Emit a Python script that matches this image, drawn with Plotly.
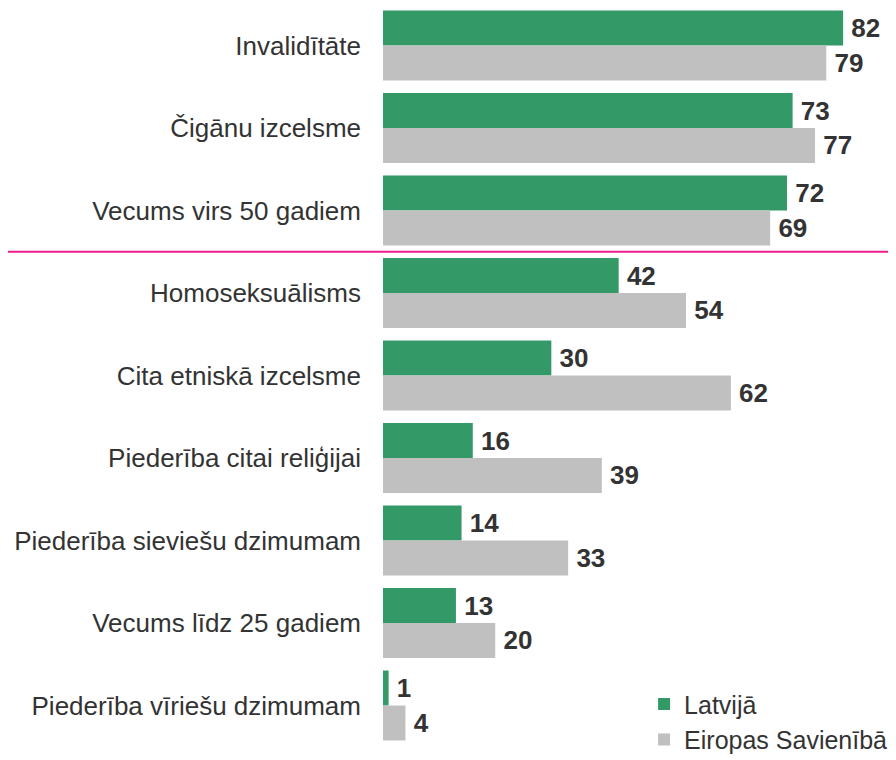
import plotly.graph_objects as go

categories = ["Invalidītāte", "Čigānu izcelsme", "Vecums virs 50 gadiem", "Homoseksuālisms",
              "Cita etniskā izcelsme", "Piederība citai reliģijai", "Piederība sieviešu dzimumam",
              "Vecums līdz 25 gadiem", "Piederība vīriešu dzimumam"]
latvia = [82, 73, 72, 42, 30, 16, 14, 13, 1]
eu = [79, 77, 69, 54, 62, 39, 33, 20, 4]
series_names = ["Latvijā", "Eiropas Savienībā"]

FONT = "Liberation Sans, Arial, sans-serif"
L, R, T, B = 375, 16, 0, 21
PW = 896 - L - R

def labels(vals):
    return [f"\u2009<b>{v}</b>" for v in vals]

fig = go.Figure()
fig.add_trace(go.Bar(y=categories, x=latvia, orientation="h", name=series_names[0],
                     marker=dict(color="#339966", line=dict(width=0)),
                     text=labels(latvia), textposition="outside",
                     textfont=dict(size=26, color="#333333", family=FONT), cliponaxis=False))
fig.add_trace(go.Bar(y=categories, x=eu, orientation="h", name=series_names[1],
                     marker=dict(color="#C0C0C0", line=dict(width=0)),
                     text=labels(eu), textposition="outside",
                     textfont=dict(size=26, color="#333333", family=FONT), cliponaxis=False))

fig.update_layout(
    width=896, height=760, barmode="group", bargap=0.152, bargroupgap=0,
    plot_bgcolor="white", paper_bgcolor="white",
    margin=dict(l=L, r=R, t=T, b=B, autoexpand=False),
    font=dict(family=FONT, size=26, color="#333333"),
    xaxis=dict(range=[0, 90], visible=False, showgrid=False, zeroline=False),
    yaxis=dict(range=[8.503, -0.4545], categoryorder="array", categoryarray=categories,
               showgrid=False, zeroline=False, showline=False,
               ticks="", ticklabelstandoff=21, tickfont=dict(size=26, color="#333333", family=FONT)),
    legend=dict(x=0.517, y=0.089, xanchor="left", yanchor="top", bgcolor="rgba(0,0,0,0)",
                font=dict(size=25, color="#333333", family=FONT), itemwidth=30),
    showlegend=True,
)
fig.add_shape(type="line", xref="paper", yref="y", x0=-(L + 10) / PW, x1=1 + (R + 10) / PW,
              y0=2.5, y1=2.5, line=dict(color="#EE1C8C", width=2))
fig.write_html("out.html")
